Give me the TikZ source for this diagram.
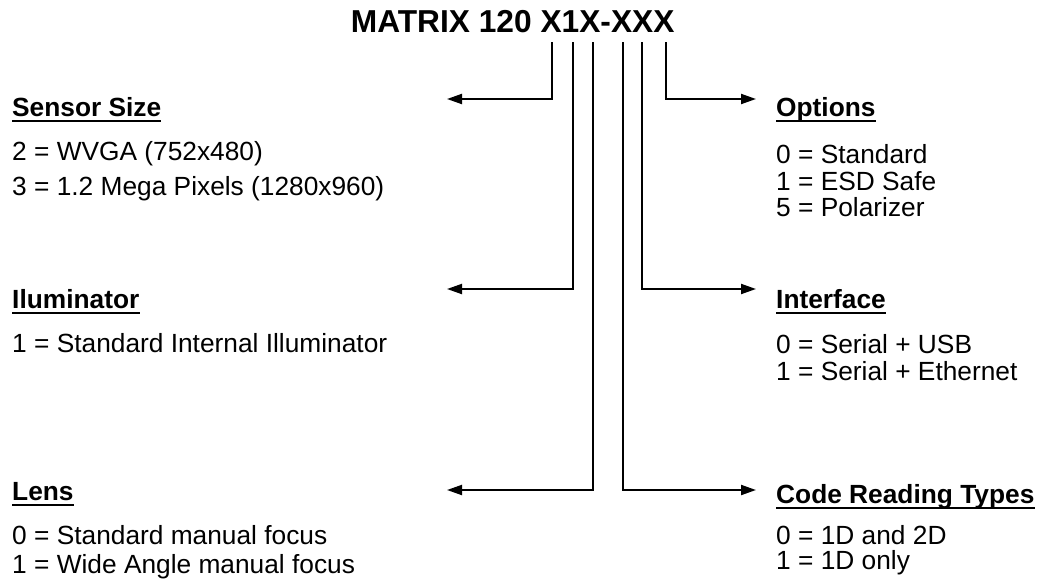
\documentclass[tikz,border=0pt]{standalone}
\usepackage{fontspec}
\setmainfont{Liberation Sans}
\usetikzlibrary{arrows.meta}
\begin{document}
\begin{tikzpicture}[x=1pt,y=-1pt,
  txt/.style={anchor=base west,inner sep=0pt,font=\fontsize{26.3}{30}\selectfont},
  head/.style={anchor=base west,inner sep=0pt,font=\fontsize{26.3}{30}\selectfont\bfseries},
  conn/.style={line width=2pt,-{Triangle[length=15pt,width=10pt]}},
  ul/.style={line width=2.3pt}]
\useasboundingbox[fill=white] (0,0) rectangle (1044,587);
\node[anchor=base west,inner sep=0pt,font=\fontsize{31.7}{36}\selectfont\bfseries] (title) at (350.7,32.7) {MATRIX 120 X1X-XXX};

% line tops under the code characters
\coordinate (t1) at (552,42);
\coordinate (t2) at (572.5,42);
\coordinate (t3) at (593,42);
\coordinate (t4) at (622.5,42);
\coordinate (t5) at (642,42);
\coordinate (t6) at (666,42);
% free arrow ends
\coordinate (e1) at (447,99);
\coordinate (e2) at (447,289);
\coordinate (e3) at (447,490);
\coordinate (e4) at (756,490);
\coordinate (e5) at (756,289);
\coordinate (e6) at (756,99);

\draw[conn] (t1) |- (e1);
\draw[conn] (t2) |- (e2);
\draw[conn] (t3) |- (e3);
\draw[conn] (t4) |- (e4);
\draw[conn] (t5) |- (e5);
\draw[conn] (t6) |- (e6);

% left column
\node[head] (hs) at (12,116) {Sensor Size};
\node[txt] (s2) at (12,160) {2 = WVGA (752x480)};
\node[txt] (s3) at (12,195) {3 = 1.2 Mega Pixels (1280x960)};
\node[head] (hi) at (12,308) {Iluminator};
\node[txt] (i1) at (12,352) {1 = Standard Internal Illuminator};
\node[head] (hl) at (12,500) {Lens};
\node[txt] (l0) at (12,544) {0 = Standard manual focus};
\node[txt] (l1) at (12,573) {1 = Wide Angle manual focus};

% right column
\node[head] (ho) at (776,116) {Options};
\node[txt] (o0) at (776,163) {0 = Standard};
\node[txt] (o1) at (776,190) {1 = ESD Safe};
\node[txt] (o5) at (776,216) {5 = Polarizer};
\node[head] (hf) at (776,308) {Interface};
\node[txt] (f0) at (776,353) {0 = Serial + USB};
\node[txt] (f1) at (776,380) {1 = Serial + Ethernet};
\node[head] (hc) at (776,503) {Code Reading Types};
\node[txt] (c0) at (776,544) {0 = 1D and 2D};
\node[txt] (c1) at (776,569) {1 = 1D only};

% underlines
\foreach \n in {hs,hi,hl,ho,hf,hc}{
  \draw[ul] ([yshift=-5pt]\n.base west) -- ([yshift=-5pt]\n.base east);
}
\end{tikzpicture}
\end{document}
